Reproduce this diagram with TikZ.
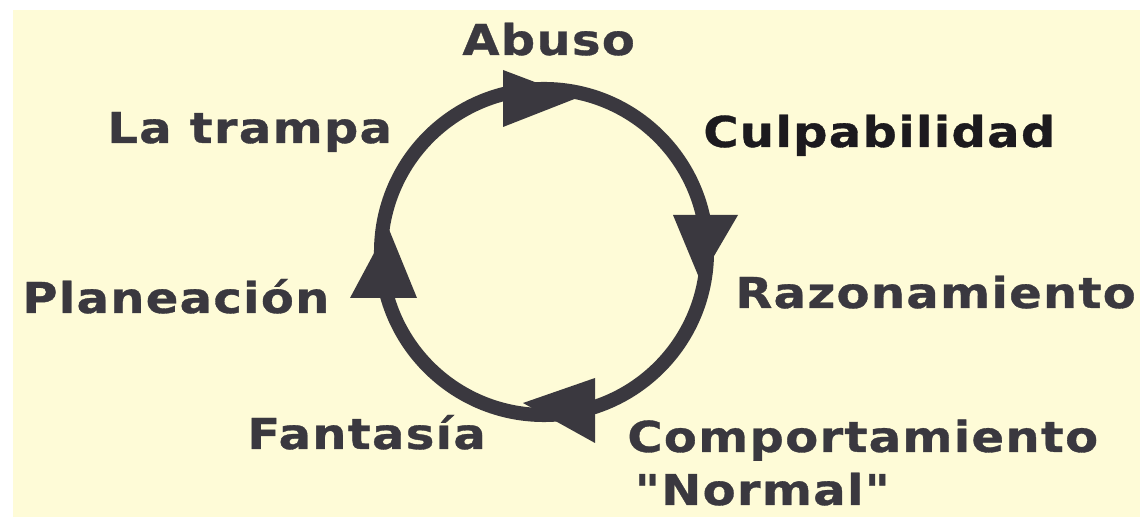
\documentclass[tikz,border=0pt]{standalone}
\usepackage{fontspec}
\newfontfamily\lblfont[LetterSpace=3,FakeStretch=1.13,FakeBold=0.8]{DejaVu Sans}
\usepackage{tikz}
\usetikzlibrary{positioning}
\definecolor{paper}{RGB}{254,251,215}
\definecolor{ink}{RGB}{58,56,63}
\definecolor{darkink}{RGB}{28,26,30}

\begin{document}
\begin{tikzpicture}
[lbl/.style={anchor=base west,inner sep=0pt,text=ink,font=\lblfont\bfseries\fontsize{24.2}{24}\selectfont},
 ring/.style={draw=ink,line width=8pt},
 head/.style={fill=ink}]
\useasboundingbox (0,0) rectangle (22.9,10.34);
\fill[white] (0,0) rectangle (22.9,10.34);
\fill[paper] (0.26,0) rectangle (22.8,10.14);

\coordinate (c) at (10.88,5.30);
\draw[ring] (c) circle (3.26);

% arrow heads on the ring
\fill[head] (10.06,8.94) -- (10.06,7.80) -- (11.54,8.38) -- cycle;
\fill[head] (13.46,6.04) -- (14.76,6.04) -- (14.00,4.74) -- cycle;
\fill[head] (11.90,2.78) -- (11.90,1.48) -- (10.46,2.28) -- cycle;
\fill[head] (7.00,4.38) -- (8.34,4.38) -- (7.76,5.80) -- cycle;

\node[lbl] (abuso) at (9.24,9.24) {Abuso};
\node[lbl] (trampa) at (2.14,7.48) {La trampa};
\node[lbl,text=darkink] (culpa) at (14.06,7.40) {Culpabilidad};
\node[lbl] (plan) at (0.44,4.08) {Planeación};
\node[lbl] (razon) at (14.70,4.18) {Razonamiento};
\node[lbl] (fanta) at (4.94,1.36) {Fantasía};
\node[lbl,align=left] (compor) at (12.54,0.24) {Comportamiento\\[6.2pt]\hspace*{0.15cm}"Normal"};
\end{tikzpicture}
\end{document}
